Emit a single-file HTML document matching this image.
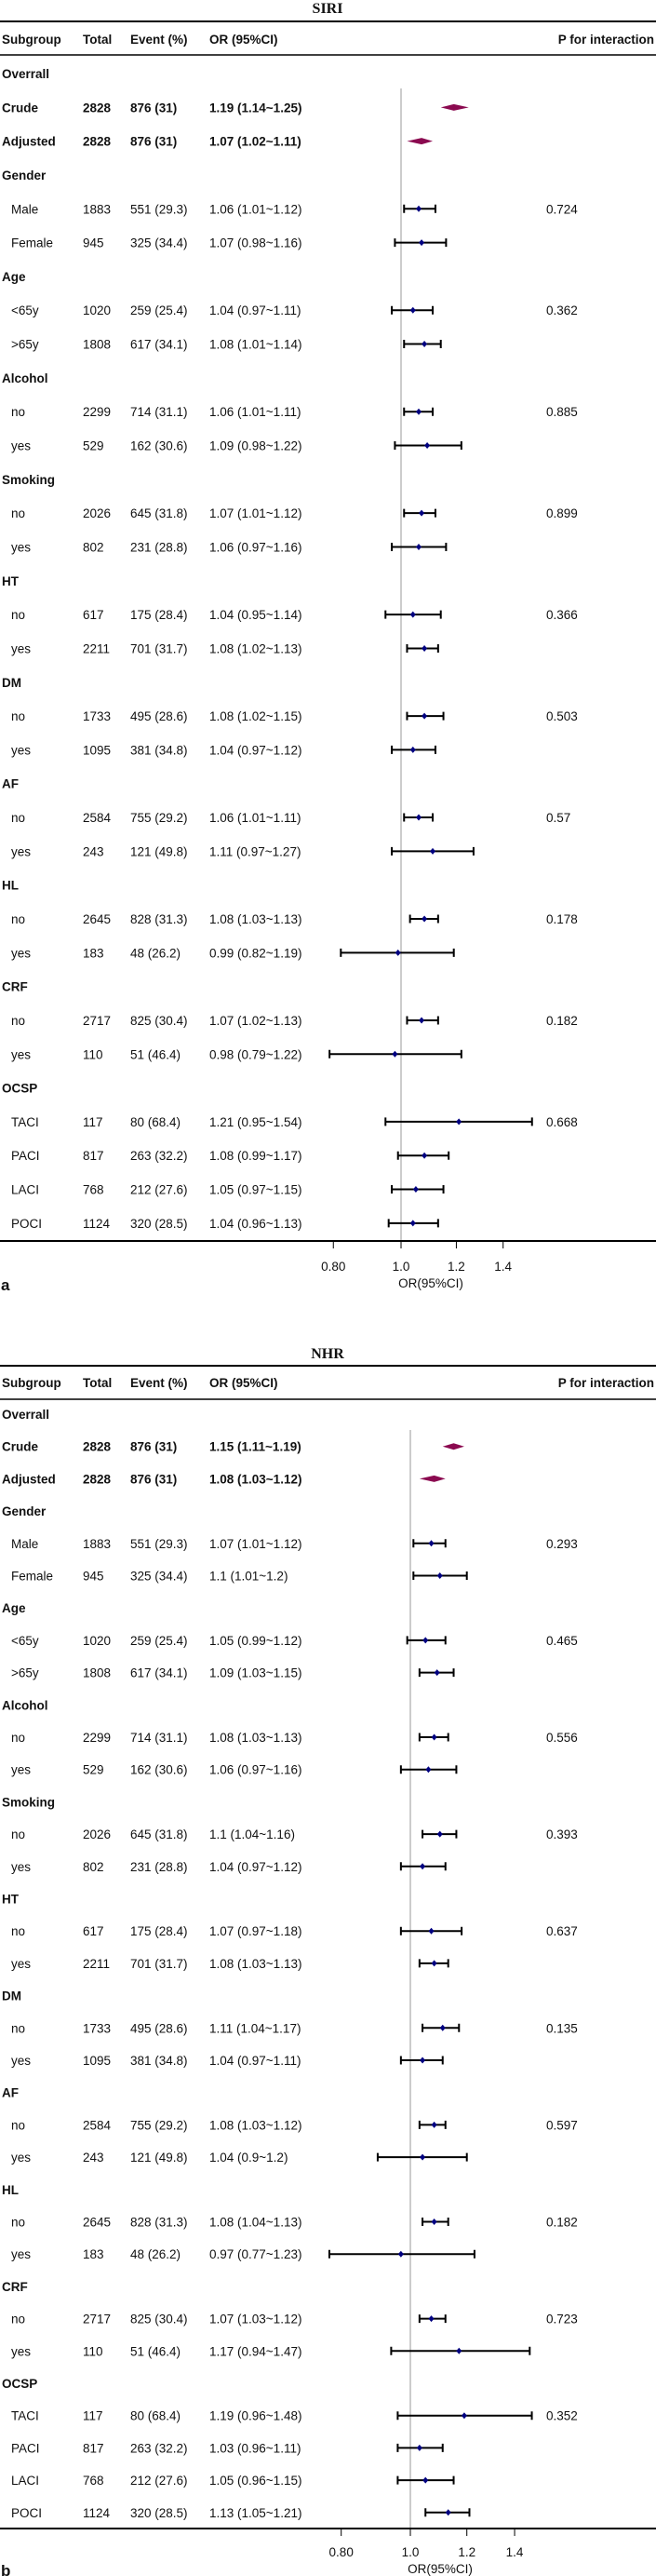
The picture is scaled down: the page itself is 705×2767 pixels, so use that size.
<!DOCTYPE html>
<html><head><meta charset="utf-8"><style>
html,body{margin:0;padding:0;background:#fff;width:705px;height:2767px;overflow:hidden}
svg{display:block}
text{font-family:"Liberation Sans Narrow","Liberation Sans",sans-serif;font-size:13.5px;fill:#111}
.b{font-weight:bold}
.t{font-family:"Liberation Serif",serif;font-weight:bold;font-size:16px}
</style></head><body>
<svg id="fig" width="705" height="2767" xmlns="http://www.w3.org/2000/svg"></svg>
<script>
// Shared row data
const rowLabels = ["Overrall","Crude","Adjusted","Gender","Male","Female","Age","<65y",">65y","Alcohol","no","yes","Smoking","no","yes","HT","no","yes","DM","no","yes","AF","no","yes","HL","no","yes","CRF","no","yes","OCSP","TACI","PACI","LACI","POCI"];
const rowTypes = ["g","o","o","g","s","s","g","s","s","g","s","s","g","s","s","g","s","s","g","s","s","g","s","s","g","s","s","g","s","s","g","s","s","s","s"];
const totals = ["","2828","2828","","1883","945","","1020","1808","","2299","529","","2026","802","","617","2211","","1733","1095","","2584","243","","2645","183","","2717","110","","117","817","768","1124"];
const events = ["","876 (31)","876 (31)","","551 (29.3)","325 (34.4)","","259 (25.4)","617 (34.1)","","714 (31.1)","162 (30.6)","","645 (31.8)","231 (28.8)","","175 (28.4)","701 (31.7)","","495 (28.6)","381 (34.8)","","755 (29.2)","121 (49.8)","","828 (31.3)","48 (26.2)","","825 (30.4)","51 (46.4)","","80 (68.4)","263 (32.2)","212 (27.6)","320 (28.5)"];
// Panel a (SIRI)
const siriEst = [null,1.19,1.07,null,1.06,1.07,null,1.04,1.08,null,1.06,1.09,null,1.07,1.06,null,1.04,1.08,null,1.08,1.04,null,1.06,1.11,null,1.08,0.99,null,1.07,0.98,null,1.21,1.08,1.05,1.04];
const siriLo = [null,1.14,1.02,null,1.01,0.98,null,0.97,1.01,null,1.01,0.98,null,1.01,0.97,null,0.95,1.02,null,1.02,0.97,null,1.01,0.97,null,1.03,0.82,null,1.02,0.79,null,0.95,0.99,0.97,0.96];
const siriHi = [null,1.25,1.11,null,1.12,1.16,null,1.11,1.14,null,1.11,1.22,null,1.12,1.16,null,1.14,1.13,null,1.15,1.12,null,1.11,1.27,null,1.13,1.19,null,1.13,1.22,null,1.54,1.17,1.15,1.13];
const siriP = ["","","","","0.724","","","0.362","","","0.885","","","0.899","","","0.366","","","0.503","","","0.57","","","0.178","","","0.182","","","0.668","","",""];
// Panel b (NHR)
const nhrEst = [null,1.15,1.08,null,1.07,1.1,null,1.05,1.09,null,1.08,1.06,null,1.1,1.04,null,1.07,1.08,null,1.11,1.04,null,1.08,1.04,null,1.08,0.97,null,1.07,1.17,null,1.19,1.03,1.05,1.13];
const nhrLo = [null,1.11,1.03,null,1.01,1.01,null,0.99,1.03,null,1.03,0.97,null,1.04,0.97,null,0.97,1.03,null,1.04,0.97,null,1.03,0.9,null,1.04,0.77,null,1.03,0.94,null,0.96,0.96,0.96,1.05];
const nhrHi = [null,1.19,1.12,null,1.12,1.2,null,1.12,1.15,null,1.13,1.16,null,1.16,1.12,null,1.18,1.13,null,1.17,1.11,null,1.12,1.2,null,1.13,1.23,null,1.12,1.47,null,1.48,1.11,1.15,1.21];
const nhrP = ["","","","","0.293","","","0.465","","","0.556","","","0.393","","","0.637","","","0.135","","","0.597","","","0.182","","","0.723","","","0.352","","",""];
const tickVals = [0.8,1.0,1.2,1.4];
const tickLabels = ["0.80","1.0","1.2","1.4"];

const NS="http://www.w3.org/2000/svg";
const svg=document.getElementById('fig');
function mk(tag,attrs,parent,txt){const e=document.createElementNS(NS,tag);for(const k in attrs)e.setAttribute(k,attrs[k]);if(txt!==undefined)e.textContent=txt;(parent||svg).appendChild(e);return e;}

function panel(P){
  const g=mk('g',{});
  
  
  const xs=v=>P.ref+P.k*Math.log(v);
  const ys=i=>P.y0+P.step*i;
  let e=mk('text',{x:352,y:P.titleY,'text-anchor':'middle',class:'t'},g,P.title);
  
  
  e=mk('line',{x1:0,x2:705,y1:P.line1,y2:P.line1,stroke:'#000','stroke-width':2},g);
  
  
  e=mk('line',{x1:0,x2:705,y1:P.line2,y2:P.line2,stroke:'#000','stroke-width':1.5},g);
  
  
  const hy=P.headY+5;
  [["Subgroup",2,'start'],["Total",89,'start'],["Event (%)",140,'start'],["OR (95%CI)",225,'start'],["P for interaction",703,'end']].forEach(h=>{
    const t=mk('text',{x:h[1],y:hy,'text-anchor':h[2],class:'b'},g,h[0]);
    
    
  });
  e=mk('line',{x1:P.ref,x2:P.ref,y1:P.refTop,y2:P.axisY,stroke:'#999','stroke-width':1},g);
  
  
  for(let i=0;i<rowLabels.length;i++){
    const y=ys(i)+5, tp=rowTypes[i];
    const cls=(tp==='s')?'':'b';
    const lx=(tp==='s')?12:2;
    let t=mk('text',{x:lx,y:y,class:cls},g,rowLabels[i]);
    
    
    if(tp==='g')continue;
    t=mk('text',{x:89,y:y,class:cls},g,totals[i]);
    
    
    t=mk('text',{x:140,y:y,class:cls},g,events[i]);
    
    
    const est=P.est[i],lo=P.lo[i],hi=P.hi[i];
    t=mk('text',{x:225,y:y,class:cls},g,String(est)+" ("+String(lo)+"~"+String(hi)+")");
    
    
    if(P.p[i]){
      t=mk('text',{x:587,y:y},g,P.p[i]);
      
      
    }
    const cy=ys(i);
    if(tp==='o'){
      const d=mk('polygon',{points:`${xs(lo)},${cy} ${xs(est)},${cy-3.5} ${xs(hi)},${cy} ${xs(est)},${cy+3.5}`,fill:'#8b0a50'},g);
      
      
    } else {
      const ci=mk('path',{d:`M${xs(lo)},${cy}H${xs(hi)}M${xs(lo)},${cy-4.5}V${cy+4.5}M${xs(hi)},${cy-4.5}V${cy+4.5}`,stroke:'#000','stroke-width':2,fill:'none'},g);
      
      
      const x=xs(est);
      const pt=mk('polygon',{points:`${x-3},${cy} ${x},${cy-3.5} ${x+3},${cy} ${x},${cy+3.5}`,fill:'#000080'},g);
      
      
    }
  }
  e=mk('line',{x1:0,x2:705,y1:P.axisY,y2:P.axisY,stroke:'#000','stroke-width':2},g);
  
  
  tickVals.forEach((v,j)=>{
    const x=xs(v);
    let tk=mk('line',{x1:x,x2:x,y1:P.axisY,y2:P.axisY+8,stroke:'#000','stroke-width':1},g);
    
    
    tk=mk('text',{x:x,y:P.tickY+5,'text-anchor':'middle'},g,tickLabels[j]);
    
    
  });
  e=mk('text',{x:P.ref+32,y:P.orY+5,'text-anchor':'middle'},g,"OR(95%CI)");
  
  
  e=mk('text',{x:1,y:P.orY+8,class:'b',style:'font-size:17px'},g,P.letter);
  
  
}
panel({name:'panel-a-siri',title:'SIRI',letter:'a',titleY:14,line1:23,headY:42,line2:59,y0:79,step:36.32,ref:431,k:326,refTop:95,axisY:1333,tickY:1360,orY:1378,est:siriEst,lo:siriLo,hi:siriHi,p:siriP});
panel({name:'panel-b-nhr',title:'NHR',letter:'b',titleY:1459,line1:1467,headY:1485,line2:1503,y0:1519,step:34.7,ref:441,k:333,refTop:1536,axisY:2716,tickY:2741,orY:2759,est:nhrEst,lo:nhrLo,hi:nhrHi,p:nhrP});
</script>
</body></html>
